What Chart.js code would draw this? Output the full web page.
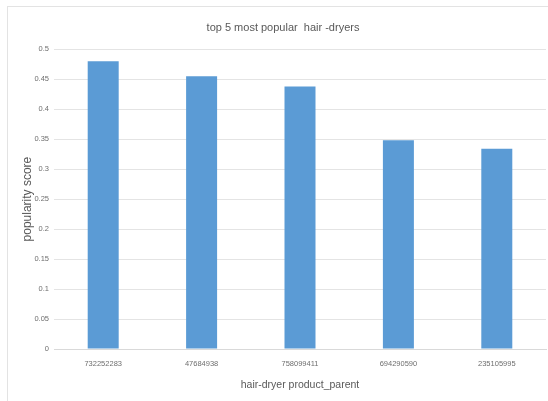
<!DOCTYPE html>
<html>
<head>
<meta charset="utf-8">
<script src="https://cdn.jsdelivr.net/npm/chart.js@4/dist/chart.umd.min.js"></script>
<style>
  body { margin: 0; background: #fff; }
  #frame {
    position: absolute; left: 7px; top: 6px; width: 560px; height: 400px;
    border: 1px solid #e3e3e3; box-sizing: border-box;
  }
  #wrap { position: absolute; left: 0; top: 0; width: 548px; height: 401px; }
</style>
</head>
<body>
<div id="frame"></div>
<div id="wrap"><canvas id="myChart"></canvas></div>
<script>
// product_parent ids and their popularity score
const productParents = ['732252283', '47684938', '758099411', '694290590', '235105995'];
const popularityScores = [0.48, 0.455, 0.438, 0.348, 0.334];
const yTicks = [0, 0.05, 0.1, 0.15, 0.2, 0.25, 0.3, 0.35, 0.4, 0.45, 0.5];

const fontFamily = '"Liberation Sans", Arial, sans-serif';

const ctx = document.getElementById('myChart').getContext('2d');
new Chart(ctx, {
    type: 'bar',
    data: {
        labels: productParents,
        datasets: [{
            label: 'popularity score',
            data: popularityScores,
            backgroundColor: '#5b9bd5',
            categoryPercentage: 1,
            barPercentage: 0.315
        }]
    },
    options: {
        responsive: true,
        maintainAspectRatio: false,
        animation: false,
        layout: { padding: { left: 20, right: 2, top: 0, bottom: 10 } },
        plugins: {
            legend: { display: false },
            tooltip: { enabled: false },
            title: {
                display: true,
                text: 'top 5 most popular  hair -dryers',
                color: '#595959',
                font: { family: fontFamily, size: 11, weight: 'normal' },
                padding: { top: 21, bottom: 15 }
            }
        },
        scales: {
            x: {
                grid: { display: false },
                border: { color: '#d9d9d9' },
                ticks: {
                    color: '#6e6e6e',
                    font: { family: fontFamily, size: 7.5 },
                    padding: 2,
                    maxRotation: 0
                },
                title: {
                    display: true,
                    text: 'hair-dryer product_parent',
                    color: '#595959',
                    font: { family: fontFamily, size: 10.5 },
                    padding: { top: 11, bottom: 0 }
                },
                afterFit: scale => { scale.height = 42; }
            },
            y: {
                min: 0,
                max: 0.5,
                afterBuildTicks: scale => {
                    scale.ticks = yTicks.map(v => ({ value: v }));
                },
                grid: { color: '#e4e4e4', drawTicks: false },
                border: { display: false },
                ticks: {
                    color: '#6e6e6e',
                    font: { family: fontFamily, size: 7.5 },
                    padding: 5,
                    callback: v => String(Number(v.toFixed(2)))
                },
                title: {
                    display: true,
                    text: 'popularity score',
                    color: '#595959',
                    font: { family: fontFamily, size: 12 },
                    padding: { top: 0, bottom: 4 }
                },
                afterFit: scale => { scale.width = 34; }
            }
        }
    }
});
</script>
</body>
</html>
